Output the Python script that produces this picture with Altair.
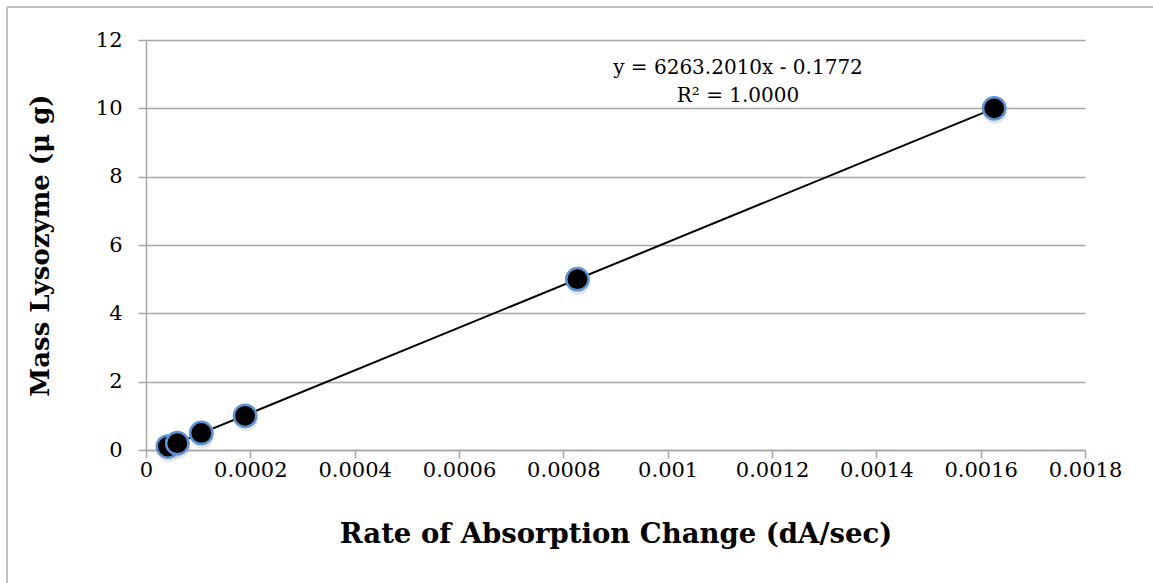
import altair as alt
import pandas as pd

# Data
rate = [0.000042, 0.000060, 0.000106, 0.000190, 0.000827, 0.001626]
mass = [0.1, 0.2, 0.5, 1.0, 5.0, 10.0]
x_ticks = [0, 0.0002, 0.0004, 0.0006, 0.0008, 0.001, 0.0012, 0.0014, 0.0016, 0.0018]
y_ticks = [0, 2, 4, 6, 8, 10, 12]
equation_lines = ["y = 6263.2010x - 0.1772", "R² = 1.0000"]

df = pd.DataFrame({"rate": rate, "mass": mass})

FONT = "DejaVu Serif"
GRID = "#A6A6A6"

x_enc = alt.X(
    "rate:Q",
    scale=alt.Scale(domain=[0, 0.0018], nice=False, zero=False),
    axis=alt.Axis(
        values=x_ticks,
        format="~g",
        title="Rate of Absorption Change (dA/sec)",
        grid=False,
        domainColor=GRID,
        domainWidth=1.5,
        tickColor=GRID,
        tickWidth=1.5,
        tickSize=8,
        labelPadding=1,
        labelFont=FONT,
        labelFontSize=21,
        labelColor="black",
        labelFlush=False,
        labelOverlap=False,
        titleFont=FONT,
        titleFontSize=27.5,
        titleFontWeight="bold",
        titleColor="black",
        titlePadding=40,
    ),
)
y_enc = alt.Y(
    "mass:Q",
    scale=alt.Scale(domain=[0, 12], nice=False),
    axis=alt.Axis(
        values=y_ticks,
        title="Mass Lysozyme (μ g)",
        grid=True,
        gridColor=GRID,
        gridWidth=1.5,
        domainColor=GRID,
        domainWidth=1.5,
        tickColor=GRID,
        tickWidth=1.5,
        tickSize=8,
        labelPadding=16,
        labelFont=FONT,
        labelFontSize=21,
        labelColor="black",
        titleFont=FONT,
        titleFontSize=26,
        titleFontWeight="bold",
        titleColor="black",
        titlePadding=42,
    ),
)

base = alt.Chart(df)

trend = base.transform_regression("rate", "mass").mark_line(
    color="black", strokeWidth=2
).encode(x=x_enc, y=y_enc)

shadow = base.mark_circle(
    color="#808080", opacity=0.2, size=540, xOffset=1, yOffset=4
).encode(x="rate:Q", y="mass:Q")

points = base.mark_circle(
    size=500, color="black", opacity=1, stroke="#5B93D3", strokeWidth=2.5
).encode(x="rate:Q", y="mass:Q")

eq = alt.Chart(pd.DataFrame({"t": [equation_lines]})).mark_text(
    font=FONT, fontSize=20, color="black", align="center", baseline="middle",
    lineHeight=28
).encode(text="t:N", x=alt.value(592), y=alt.value(28))

frame_left = alt.Chart(pd.DataFrame({"a": [0]})).mark_rule(
    color="#BFBFBF", strokeWidth=2
).encode(x=alt.value(-139), y=alt.value(-33), y2=alt.value(560))
frame_top = alt.Chart(pd.DataFrame({"a": [0]})).mark_rule(
    color="#BFBFBF", strokeWidth=2
).encode(x=alt.value(-139), x2=alt.value(1020), y=alt.value(-33))

chart = (
    alt.layer(frame_left, frame_top, trend, shadow, points, eq)
    .properties(
        width=939,
        height=410,
        autosize=alt.AutoSizeParams(type="none"),
        padding={"left": 146, "top": 40, "right": 68, "bottom": 133},
        background="white",
    )
    .configure_view(stroke=None)
)

chart.save("out.html", embed_options={"renderer": "svg", "actions": False})
